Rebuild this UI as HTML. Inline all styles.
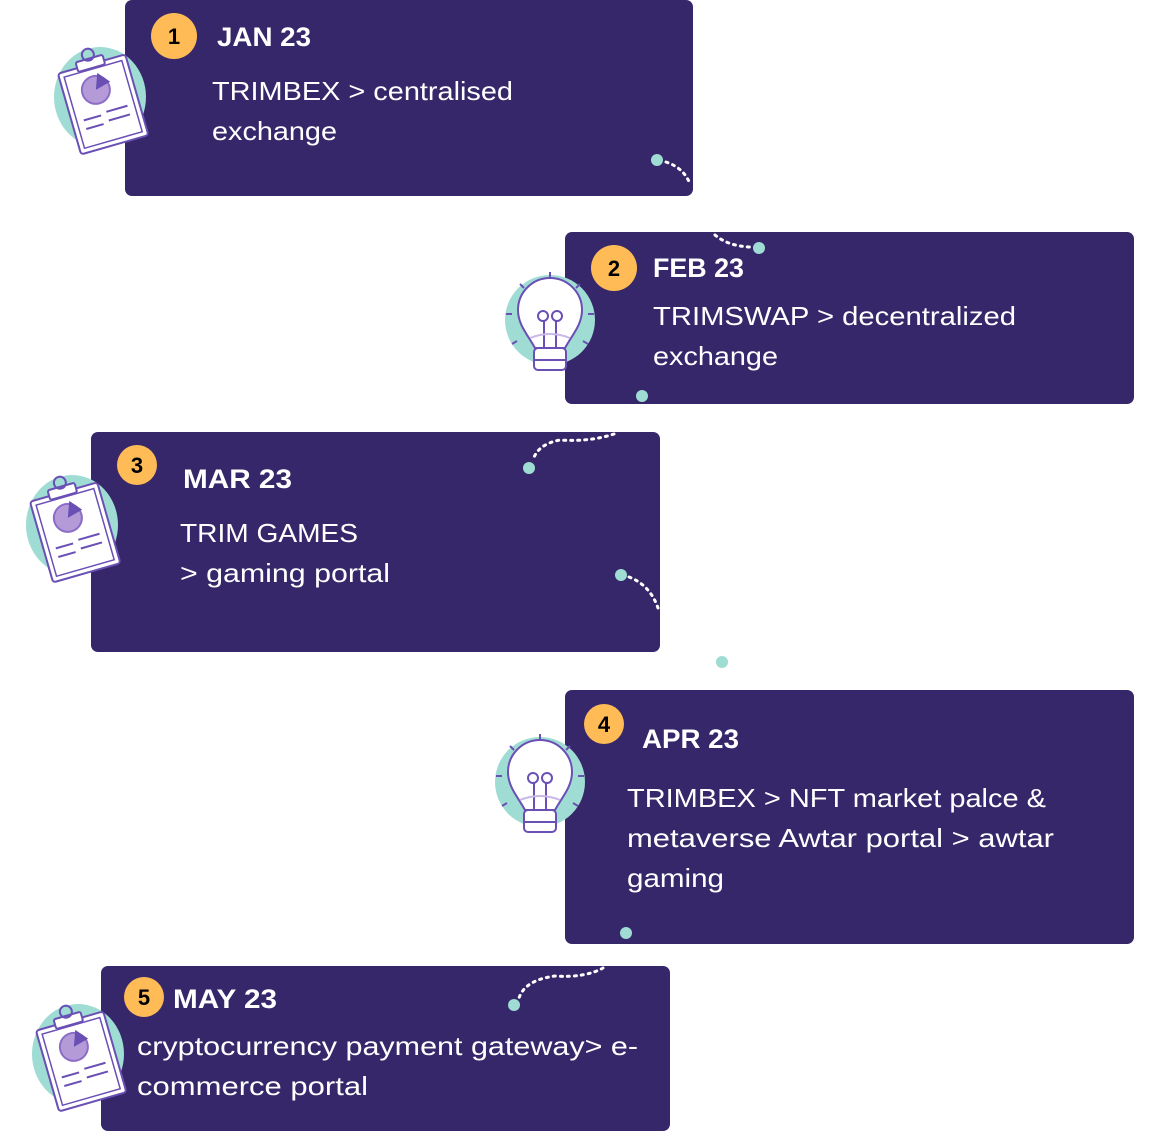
<!DOCTYPE html>
<html><head><meta charset="utf-8"><style>
html,body{margin:0;padding:0;background:#fff;}
svg{display:block}
text{font-family:"Liberation Sans",sans-serif;fill:#fff}
.t{font-weight:bold;font-size:27px}
.b{font-size:26px}
.n{font-weight:bold;font-size:22px;fill:#000}
</style></head><body>
<svg width="1158" height="1131" viewBox="0 0 1158 1131" xmlns="http://www.w3.org/2000/svg">
<defs>
<g id="clip">
  <ellipse cx="0" cy="0" rx="46" ry="50" fill="#9fdcd3"/>
  <g transform="rotate(-16)" fill="#fff" stroke="#6a4fb5" stroke-width="2">
    <rect x="-34" y="-34" width="70" height="84" rx="3"/>
    <rect x="-29" y="-29" width="60" height="74" fill="none" stroke-width="1.5"/>
    <rect x="-14" y="-40" width="28" height="10" rx="2"/>
    <circle cx="0" cy="-44" r="6" fill="none"/>
    <circle cx="-2" cy="-8" r="14" fill="#b49bd8" stroke="#8b6cc6"/>
    <path d="M-2,-8 L4,-24 L14,-12 Z" fill="#6a4fb5" stroke="none"/>
    <line x1="-22" y1="18" x2="-4" y2="18"/><line x1="2" y1="16" x2="24" y2="16"/>
    <line x1="-22" y1="27" x2="-4" y2="27"/><line x1="2" y1="25" x2="24" y2="25"/>
  </g>
</g>
<g id="bulb">
  <circle cx="0" cy="0" r="45" fill="#9fdcd3"/>
  <g fill="none" stroke="#6a4fb5" stroke-width="2">
    <path d="M-15,28 C-22,15 -32,5 -32,-10 A32,32 0 1 1 32,-10 C32,5 22,15 15,28 Z" fill="#fff"/>
    <rect x="-16" y="28" width="32" height="22" rx="4" fill="#fff"/>
    <path d="M-16,40 h32"/>
    <path d="M-6,28 L-6,0 M6,28 L6,0"/>
    <circle cx="-7" cy="-4" r="5"/><circle cx="7" cy="-4" r="5"/>
    <path d="M-20,18 Q0,10 20,18" stroke="#c9b8e8"/>
    <path d="M0,-48 v6 M-30,-36 l4,4 M30,-36 l-4,4 M-44,-6 h6 M44,-6 h-6 M-38,24 l5,-3 M38,24 l-5,-3"/>
  </g>
</g>
</defs>

<rect x="125" y="0" width="568" height="196" rx="7" fill="#35276a"/>
<rect x="565" y="232" width="569" height="172" rx="7" fill="#35276a"/>
<rect x="91" y="432" width="569" height="220" rx="7" fill="#35276a"/>
<rect x="565" y="690" width="569" height="254" rx="7" fill="#35276a"/>
<rect x="101" y="966" width="569" height="165" rx="7" fill="#35276a"/>

<use href="#clip" x="100" y="97"/>
<use href="#bulb" x="550" y="320"/>
<use href="#clip" x="72" y="525"/>
<use href="#bulb" x="540" y="782"/>
<use href="#clip" x="78" y="1054"/>

<g fill="none" stroke="#fff" stroke-width="3" stroke-dasharray="2 5" stroke-linecap="round">
  <path d="M666,162 Q684,168 690,184"/>
  <path d="M715,235 Q728,246 750,247"/>
  <path d="M614,434 Q590,442 560,440 Q538,444 533,460"/>
  <path d="M629,577 Q650,585 658,608"/>
  <path d="M603,968 Q585,978 555,976 Q525,980 519,998"/>
</g>
<g fill="#9fdcd3">
  <circle cx="657" cy="160" r="6"/>
  <circle cx="759" cy="248" r="6"/>
  <circle cx="642" cy="396" r="6"/>
  <circle cx="529" cy="468" r="6"/>
  <circle cx="621" cy="575" r="6"/>
  <circle cx="722" cy="662" r="6"/>
  <circle cx="626" cy="933" r="6"/>
  <circle cx="514" cy="1005" r="6"/>
</g>

<g fill="#ffbb55">
  <circle cx="174" cy="36" r="23"/>
  <circle cx="614" cy="268" r="23"/>
  <circle cx="137" cy="465" r="20"/>
  <circle cx="604" cy="724" r="20"/>
  <circle cx="144" cy="997" r="20"/>
</g>
<text class="n" x="174" y="44" text-anchor="middle">1</text>
<text class="n" x="614" y="276" text-anchor="middle">2</text>
<text class="n" x="137" y="473" text-anchor="middle">3</text>
<text class="n" x="604" y="732" text-anchor="middle">4</text>
<text class="n" x="144" y="1005" text-anchor="middle">5</text>

<text class="t" x="217" y="46" textLength="94" lengthAdjust="spacingAndGlyphs">JAN 23</text>
<text class="b" x="212" y="100" textLength="301" lengthAdjust="spacingAndGlyphs">TRIMBEX &gt; centralised</text>
<text class="b" x="212" y="140" textLength="125" lengthAdjust="spacingAndGlyphs">exchange</text>

<text class="t" x="653" y="277" textLength="91" lengthAdjust="spacingAndGlyphs">FEB 23</text>
<text class="b" x="653" y="325" textLength="363" lengthAdjust="spacingAndGlyphs">TRIMSWAP &gt; decentralized</text>
<text class="b" x="653" y="365" textLength="125" lengthAdjust="spacingAndGlyphs">exchange</text>

<text class="t" x="183" y="488" textLength="109" lengthAdjust="spacingAndGlyphs">MAR 23</text>
<text class="b" x="180" y="542" textLength="178" lengthAdjust="spacingAndGlyphs">TRIM GAMES</text>
<text class="b" x="180" y="582" textLength="210" lengthAdjust="spacingAndGlyphs">&gt; gaming portal</text>

<text class="t" x="642" y="748" textLength="97" lengthAdjust="spacingAndGlyphs">APR 23</text>
<text class="b" x="627" y="807" textLength="419" lengthAdjust="spacingAndGlyphs">TRIMBEX &gt; NFT market palce &amp;</text>
<text class="b" x="627" y="847" textLength="427" lengthAdjust="spacingAndGlyphs">metaverse Awtar portal &gt; awtar</text>
<text class="b" x="627" y="887" textLength="97" lengthAdjust="spacingAndGlyphs">gaming</text>

<text class="t" x="173" y="1008" textLength="104" lengthAdjust="spacingAndGlyphs">MAY 23</text>
<text class="b" x="137" y="1055" textLength="501" lengthAdjust="spacingAndGlyphs">cryptocurrency payment gateway&gt; e-</text>
<text class="b" x="137" y="1095" textLength="231" lengthAdjust="spacingAndGlyphs">commerce portal</text>
</svg>
</body></html>
